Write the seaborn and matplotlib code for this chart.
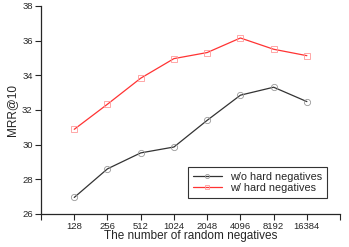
import matplotlib
matplotlib.use("Agg")
import matplotlib.pyplot as plt
import seaborn as sns
import pandas as pd
from matplotlib.lines import Line2D

negatives = ["128", "256", "512", "1024", "2048", "4096", "8192", "16384"]
wo_hard = [26.95, 28.6, 29.52, 29.86, 31.4, 32.85, 33.31, 32.48]
w_hard = [30.88, 32.33, 33.83, 34.96, 35.31, 36.15, 35.5, 35.13]
y_ticks = [26, 28, 30, 32, 34, 36, 38]

sns.set_style("ticks")
plt.rcParams["font.family"] = ["Liberation Sans", "DejaVu Sans"]

pos = list(range(1, len(negatives) + 1))
df = pd.DataFrame({
    "pos": pos * 2,
    "mrr": wo_hard + w_hard,
    "series": ["w/o hard negatives"] * len(pos) + ["w/ hard negatives"] * len(pos),
})

fig = plt.figure(figsize=(3.49, 2.47), dpi=100)
ax = fig.add_axes([0.1175, 0.134, 0.857, 0.842])

sns.lineplot(data=df, x="pos", y="mrr", hue="series", style="series",
             palette={"w/o hard negatives": "#333333", "w/ hard negatives": "#ff3333"},
             markers={"w/o hard negatives": "o", "w/ hard negatives": "s"},
             dashes=False, linewidth=0.9, markersize=4.5, markerfacecolor="none",
             markeredgewidth=0.6, ax=ax, legend=False)

# marker edges a bit lighter than the lines
for line, mec in zip(ax.lines, ["#999999", "#ff9999"]):
    line.set_markeredgecolor(mec)

ax.set_xlim(0, len(negatives) + 1)
ax.set_xticks([0] + pos + [len(negatives) + 1])
ax.set_xticklabels([""] + negatives + [""])
ax.set_ylim(26, 38)
ax.set_yticks(y_ticks)
ax.tick_params(labelsize=6.8, length=4, width=0.8, pad=2)
ax.set_xlabel("The number of random negatives", fontsize=8.5, labelpad=-1)
ax.set_ylabel("MRR@10", fontsize=8.5, labelpad=3)
for s in ["top", "right"]:
    ax.spines[s].set_visible(False)
for s in ["left", "bottom"]:
    ax.spines[s].set_linewidth(0.9)

handles = [
    Line2D([], [], color="#333333", lw=0.9, marker="o", ms=3, mfc="none", mec="#999999", mew=0.6),
    Line2D([], [], color="#ff3333", lw=0.9, marker="s", ms=3, mfc="none", mec="#ff9999", mew=0.6),
]
ax.legend(handles, ["w/o hard negatives", "w/ hard negatives"], loc="lower right",
          bbox_to_anchor=(0.975, 0.05), fontsize=7.8, frameon=True, fancybox=False,
          edgecolor="#333333", framealpha=1, handlelength=2.6, borderpad=0.45,
          labelspacing=0.1, handletextpad=0.8)
ax.get_legend().get_frame().set_linewidth(0.8)

fig.savefig("out.png", dpi=100)
